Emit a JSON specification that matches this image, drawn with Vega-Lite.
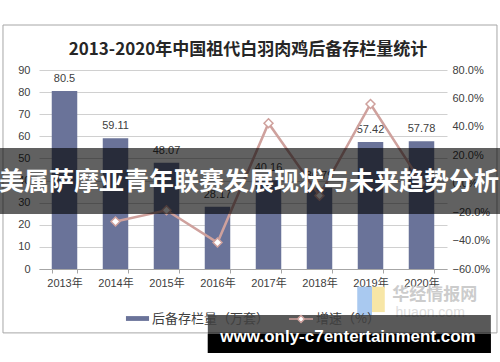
{
  "$schema": "https://vega.github.io/schema/vega-lite/v6.json",
  "width": 408,
  "height": 199,
  "autosize": "none",
  "padding": {"left": 39, "top": 70, "right": 53, "bottom": 93},
  "background": "white",
  "config": {
    "view": {"stroke": null},
    "font": "Liberation Sans, Noto Sans CJK SC",
    "axis": {"labelColor": "#404040", "labelFontSize": 11, "labelFont": "Liberation Sans, Noto Sans CJK SC", "labelOverlap": false},
    "legend": {"labelFontSize": 13, "labelFont": "Noto Sans CJK SC", "labelColor": "#404040", "title": null}
  },
  "title": {
    "text": "2013-2020年中国祖代白羽肉鸡后备存栏量统计",
    "font": "Noto Sans CJK SC",
    "fontSize": 17,
    "fontWeight": "bold",
    "color": "#262626",
    "frame": "group",
    "anchor": "middle",
    "offset": -47,
    "baseline": "alphabetic",
    "dx": 5
  },
  "datasets": {
    "main": [
      {"year": "2013年", "stock": 80.5, "growth": null, "s1": "后备存栏量（万套）", "s2": "增速（%）"},
      {"year": "2014年", "stock": 59.11, "growth": -0.266, "s1": "后备存栏量（万套）", "s2": "增速（%）"},
      {"year": "2015年", "stock": 48.07, "growth": -0.187, "s1": "后备存栏量（万套）", "s2": "增速（%）"},
      {"year": "2016年", "stock": 28.17, "growth": -0.414, "s1": "后备存栏量（万套）", "s2": "增速（%）"},
      {"year": "2017年", "stock": 40.16, "growth": 0.426, "s1": "后备存栏量（万套）", "s2": "增速（%）"},
      {"year": "2018年", "stock": 36.79, "growth": -0.084, "s1": "后备存栏量（万套）", "s2": "增速（%）"},
      {"year": "2019年", "stock": 57.42, "growth": 0.561, "s1": "后备存栏量（万套）", "s2": "增速（%）"},
      {"year": "2020年", "stock": 57.78, "growth": 0.006, "s1": "后备存栏量（万套）", "s2": "增速（%）"}
    ]
  },
  "layer": [
    {
      "data": {"name": "main"},
      "layer": [
        {
          "mark": {"type": "bar"},
          "encoding": {
            "x": {
              "field": "year", "type": "nominal", "sort": null,
              "scale": {"paddingInner": 0.5, "paddingOuter": 0.25},
              "axis": {"title": null, "labelAngle": 0, "tickBand": "extent", "domainColor": "#a6a6a6", "tickColor": "#a6a6a6", "tickSize": 4, "labelPadding": 4, "grid": false, "labelOverlap": false}
            },
            "y": {
              "field": "stock", "type": "quantitative",
              "scale": {"domain": [0, 90], "nice": false},
              "axis": {"title": null, "values": [0, 10, 20, 30, 40, 50, 60, 70, 80, 90], "tickCount": 20, "grid": true, "gridColor": "#d0d0d0", "domain": false, "ticks": false, "labelPadding": 9, "labelOverlap": false, "labelFlush": false}
            },
            "color": {
              "field": "s1", "type": "nominal",
              "scale": {"range": ["#6a7399"]},
              "legend": {"orient": "none", "legendX": 88, "legendY": 238, "symbolType": "M-1.2,-0.25H1.2V0.25H-1.2Z", "symbolSize": 370}
            }
          }
        },
        {
          "mark": {"type": "text", "fontSize": 11, "color": "#404040", "dy": -12},
          "encoding": {
            "x": {"field": "year", "type": "nominal", "sort": null},
            "y": {"field": "stock", "type": "quantitative"},
            "text": {"field": "stock", "type": "nominal"}
          }
        }
      ]
    },
    {
      "data": {"name": "main"},
      "encoding": {
        "x": {"field": "year", "type": "nominal", "sort": null, "scale": {"paddingInner": 0.5, "paddingOuter": 0.25}, "axis": null}
      },
      "layer": [
        {
          "mark": {"type": "line", "strokeWidth": 2.5},
          "encoding": {
            "y": {
              "field": "growth", "type": "quantitative",
              "scale": {"domain": [-0.6, 0.8], "nice": false},
              "axis": {"title": null, "orient": "right", "format": ".1%", "values": [-0.6, -0.4, -0.2, 0, 0.2, 0.4, 0.6, 0.8], "tickCount": 20, "grid": false, "domain": false, "ticks": false, "labelPadding": 5, "labelOverlap": false, "labelFlush": false}
            },
            "stroke": {
              "field": "s2", "type": "nominal",
              "scale": {"range": ["#cfa19d"]},
              "legend": {"orient": "none", "legendX": 251, "legendY": 238, "symbolType": "M-1.2,0H-0.35M0.35,0H1.2M0,-0.35L0.35,0L0,0.35L-0.35,0Z", "symbolSize": 400, "symbolStrokeWidth": 1.5, "symbolFillColor": "white"}
            }
          }
        },
        {
          "mark": {"type": "point", "shape": "diamond", "filled": true, "fill": "white", "stroke": "#cfa19d", "strokeWidth": 1.5, "size": 80, "opacity": 1},
          "encoding": {
            "y": {"field": "growth", "type": "quantitative"}
          }
        }
      ]
    },
    {
      "data": {"values": [{"banner": "美属萨摩亚青年联赛发展现状与未来趋势分析", "site": "www.only-c7entertainment.com", "logo": "华经情报网", "logo2": "huaon.com"}]},
      "layer": [
        {
          "mark": {"type": "rect", "filled": false, "stroke": "#a6a6a6", "strokeWidth": 1},
          "encoding": {
            "x": {"datum": -0.706, "type": "quantitative", "scale": {"domain": [0, 8], "nice": false, "zero": false}, "axis": null},
            "x2": {"datum": 8.98},
            "y": {"datum": 110.35, "type": "quantitative", "scale": {"domain": [0, 90], "nice": false}, "axis": null},
            "y2": {"datum": -28.9}
          }
        },
        {
          "mark": {"type": "rect", "color": "#a9c9f0"},
          "encoding": {
            "x": {"datum": 6.24, "type": "quantitative"},
            "x2": {"datum": 6.53},
            "y": {"datum": -8, "type": "quantitative"},
            "y2": {"datum": -21}
          }
        },
        {
          "mark": {"type": "rect", "color": "#f7e6a6"},
          "encoding": {
            "x": {"datum": 6.53, "type": "quantitative"},
            "x2": {"datum": 6.78},
            "y": {"datum": -8, "type": "quantitative"},
            "y2": {"datum": -19.5}
          }
        },
        {
          "mark": {"type": "text", "color": "#cccccc", "fontSize": 17, "fontWeight": "bold", "font": "Noto Sans CJK SC"},
          "encoding": {
            "x": {"datum": 7.76, "type": "quantitative"},
            "y": {"datum": -11.8, "type": "quantitative"},
            "text": {"field": "logo"}
          }
        },
        {
          "mark": {"type": "text", "color": "#dddddd", "fontSize": 14, "font": "Liberation Sans"},
          "encoding": {
            "x": {"datum": 7.67, "type": "quantitative"},
            "y": {"datum": -20, "type": "quantitative"},
            "text": {"field": "logo2"}
          }
        },
        {
          "mark": {"type": "rect", "color": "black", "opacity": 0.62},
          "encoding": {
            "x": {"datum": -0.77, "type": "quantitative"},
            "x2": {"datum": 9.04},
            "y": {"datum": 54.7, "type": "quantitative"},
            "y2": {"datum": 24.9}
          }
        },
        {
          "mark": {"type": "text", "color": "white", "fontSize": 25, "fontWeight": "bold", "font": "Noto Sans CJK SC"},
          "encoding": {
            "x": {"datum": 4.12, "type": "quantitative"},
            "y": {"datum": 39.5, "type": "quantitative"},
            "text": {"field": "banner"}
          }
        },
        {
          "mark": {"type": "rect", "color": "black", "opacity": 0.65},
          "encoding": {
            "x": {"datum": 3.31, "type": "quantitative"},
            "x2": {"datum": 8.86},
            "y": {"datum": -20.8, "type": "quantitative"},
            "y2": {"datum": -38}
          }
        },
        {
          "mark": {"type": "rect", "color": "black", "opacity": 1},
          "encoding": {
            "x": {"datum": 3.31, "type": "quantitative"},
            "x2": {"datum": 8.86},
            "y": {"datum": -29.4, "type": "quantitative"},
            "y2": {"datum": -38}
          }
        },
        {
          "mark": {"type": "text", "color": "white", "fontSize": 17, "fontWeight": "bold", "font": "Liberation Sans"},
          "encoding": {
            "x": {"datum": 6.06, "type": "quantitative"},
            "y": {"datum": -30.8, "type": "quantitative"},
            "text": {"field": "site"}
          }
        }
      ]
    }
  ],
  "resolve": {"scale": {"x": "independent", "y": "independent"}}
}
